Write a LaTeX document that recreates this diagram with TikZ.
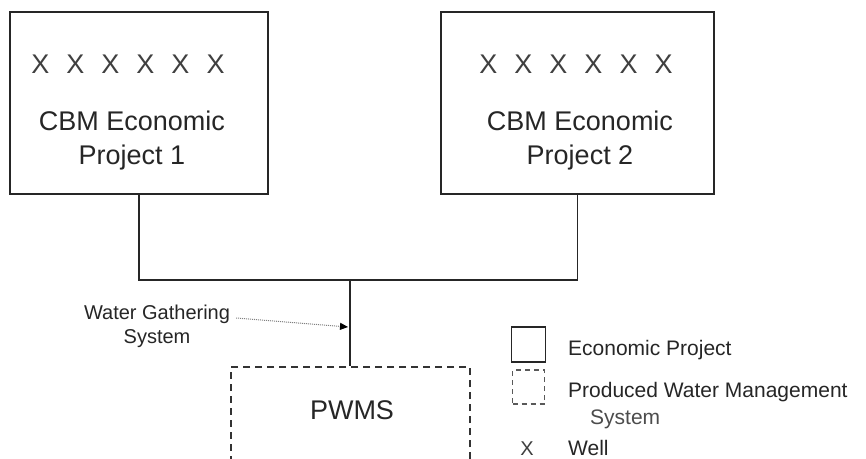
\documentclass[tikz,border=0pt]{standalone}
\usepackage{fontspec}
\setmainfont{Liberation Sans}
\usetikzlibrary{arrows.meta}
\begin{document}
\begin{tikzpicture}[x=1pt,y=-1pt,
  projbox/.style={draw=black!85, line width=1.2pt, rectangle, inner sep=0pt},
  pwbox/.style={draw=black!80, line width=1.4pt, dash pattern=on 7pt off 5pt, rectangle, inner sep=0pt},
  legdash/.style={draw=black!65, line width=1.4pt, dash pattern=on 5pt off 4pt, rectangle, inner sep=0pt},
  bigtxt/.style={font=\fontsize{27}{34}\selectfont, inner sep=0pt, text=black!85, align=center},
  midtxt/.style={font=\fontsize{20}{24}\selectfont, inner sep=0pt, text=black!85, align=center},
  legtxt/.style={font=\fontsize{21}{25}\selectfont, inner sep=0pt, text=black!85, anchor=base west},
  wire/.style={draw=black!85, line width=1.2pt},
  trunk/.style={draw=black!85, line width=2.4pt},
  note/.style={draw=black!50, line width=1pt, dash pattern=on 1pt off 1pt, -{Triangle[length=8pt,width=7pt,color=black,fill=black]}}
]
\useasboundingbox (0,0) rectangle (866,458);
\clip (0,0) rectangle (866,458);
\fill[white] (0,0) rectangle (866,458);

% project boxes
\node[projbox, minimum width=258pt, minimum height=182pt] (p1) at (139,103) {};
\node[projbox, minimum width=273pt, minimum height=182pt] (p2) at (577.5,103) {};
\node[bigtxt, anchor=base, text=black!75] (p1x) at (128,73) {X\hspace{17pt}X\hspace{17pt}X\hspace{17pt}X\hspace{17pt}X\hspace{17pt}X};
\node[bigtxt, anchor=base, text=black!75] (p2x) at (576,73) {X\hspace{17pt}X\hspace{17pt}X\hspace{17pt}X\hspace{17pt}X\hspace{17pt}X};
\node[bigtxt] (p1t) at (132,141) {CBM Economic\\Project 1};
\node[bigtxt] (p2t) at (580,141) {CBM Economic\\Project 2};

% PWMS
\node[pwbox, minimum width=239pt, minimum height=153pt] (pwms) at (350.5,443.5) {};
\node[bigtxt, anchor=base] (pwt) at (352,419) {PWMS};

% gathering system
\coordinate (jn) at (350,280);
\draw[wire] (p1.south) |- (jn) -| (p2.south);
\draw[trunk] (jn) -- (jn |- pwms.north);

% annotation
\node[midtxt] (wgs) at (157,326) {Water Gathering\\System};
\coordinate (wgsb) at (348,327);
\draw[note] ([shift={(6,-8)}]wgs.east) -- (wgsb);

% legend
\node[projbox, minimum width=34pt, minimum height=35pt] (lg1) at (528.5,344.5) {};
\node[legdash, minimum width=32pt, minimum height=34pt] (lg2) at (528.5,387) {};
\node[legtxt] (lt1) at (568,355) {Economic Project};
\node[legtxt] (lt2) at (568,397) {Produced Water Management};
\node[legtxt, text=black!70] (lt3) at (590,424) {System};
\node[midtxt, anchor=base, text=black!75] (lgx) at (527,455) {X};
\node[legtxt] (lt4) at (568,455) {Well};
\end{tikzpicture}
\end{document}
